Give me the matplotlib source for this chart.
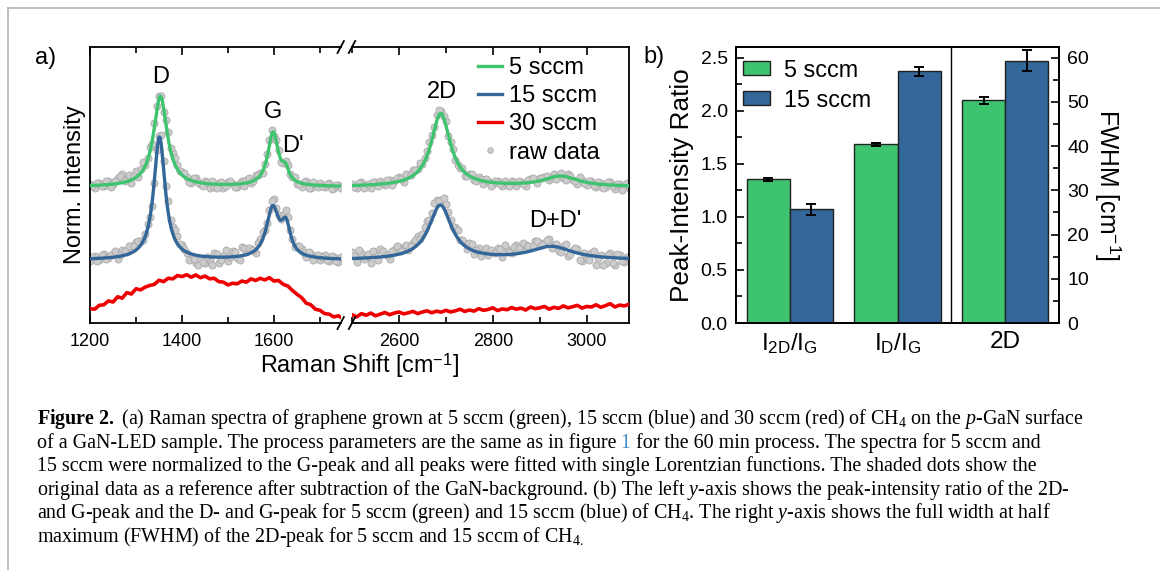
import matplotlib
matplotlib.use("Agg")
import matplotlib.pyplot as plt
from matplotlib.lines import Line2D
from matplotlib.ticker import MultipleLocator, FormatStrFormatter
import numpy as np

plt.rcParams['font.family'] = ['Liberation Sans', 'DejaVu Sans']
plt.rcParams['mathtext.fontset'] = 'custom'
plt.rcParams['mathtext.rm'] = 'Liberation Serif'
plt.rcParams['mathtext.it'] = 'Liberation Serif:italic'
plt.rcParams['mathtext.bf'] = 'Liberation Serif:bold'
plt.rcParams['mathtext.sf'] = 'Liberation Sans'

W, H = 1160, 570

# ---- panel a data (norm. intensity, arb. units, spectra stacked) ----
# Lorentzian fit parameters: (position cm-1, amplitude, FWHM cm-1)
green_base = 4.93
green_peaks = [(1353, 3.28, 36), (1598, 1.93, 28), (1625, 0.45, 18),
               (2689, 2.65, 50), (2945, 0.37, 90)]
blue_base = 2.28
blue_peaks = [(1351, 4.45, 30), (1597, 1.80, 34), (1626, 1.06, 24),
              (2688, 1.97, 59), (2925, 0.47, 110)]

# raw data = fit + residuals; two interleaved grids, 10 cm-1 apart each
green_res_low = [0.05, -0.10, 0.08, -0.05, 0.12, 0.00, 0.20, 0.30, 0.10, -0.12,
                 0.25, 0.15, 0.05, 0.20, 0.15, 0.10, -0.15, 0.25, 0.20, 0.15,
                 0.10, 0.05, -0.08, 0.12, -0.05, 0.08, -0.15, -0.10, 0.05, -0.12,
                 0.10, 0.00, -0.10, 0.08, 0.12, -0.05, 0.15, 0.10, 0.05, 0.20,
                 -0.10, 0.10, -0.05, 0.12, 0.05, -0.08, -0.12, 0.10, -0.10, 0.05,
                 0.08, -0.05, 0.10, -0.08, 0.05, 0.00]
green_mid_low = [0.00, 0.10, -0.05, 0.15, -0.10, 0.10, 0.25, 0.05, 0.20, 0.10,
                 -0.05, 0.30, 0.10, -0.10, 0.20, 0.05, 0.15, 0.10, 0.25, 0.05,
                 0.15, -0.10, 0.10, 0.00, -0.12, 0.05, 0.10, -0.15, 0.08, -0.05,
                 0.12, -0.10, 0.05, -0.08, 0.15, 0.00, 0.10, -0.05, 0.10, 0.15,
                 0.05, -0.10, 0.08, 0.00, 0.12, -0.05, 0.05, -0.12, 0.10, -0.05,
                 0.00, 0.08, -0.10, 0.05, -0.05]
blue_res_low = [-0.10, 0.10, -0.05, 0.15, 0.00, 0.12, -0.08, 0.20, 0.10, 0.25,
                0.30, 0.15, 0.10, 0.05, -0.10, 0.05, 0.30, 0.40, 0.25, 0.30,
                0.15, -0.05, -0.20, -0.30, -0.15, -0.25, -0.10, 0.15, -0.20, 0.05,
                -0.15, 0.20, -0.05, 0.30, 0.10, 0.15, -0.10, 0.20, 0.10, 0.15,
                0.25, 0.10, 0.15, 0.20, 0.05, 0.10, 0.15, -0.05, 0.10, 0.00,
                -0.10, 0.12, -0.08, 0.05, -0.12, 0.08]
blue_mid_low = [0.05, -0.10, 0.12, -0.05, 0.10, 0.20, 0.05, 0.15, 0.30, 0.20,
                0.25, 0.05, 0.20, -0.15, 0.15, 0.35, 0.30, 0.20, 0.35, 0.10,
                0.05, -0.25, -0.15, -0.35, -0.20, 0.00, -0.30, 0.10, -0.10, 0.25,
                0.00, 0.15, -0.15, 0.25, 0.20, 0.05, 0.15, 0.25, 0.05, 0.20,
                0.15, 0.05, 0.25, 0.10, -0.05, 0.20, 0.05, 0.15, -0.10, 0.10,
                0.05, -0.05, 0.10, -0.10, 0.05]
green_res_high = [0.05, -0.08, 0.10, 0.00, -0.10, 0.08, 0.12, -0.05, 0.10, 0.05,
                  0.15, -0.08, 0.12, 0.20, 0.10, 0.05, 0.15, 0.20, 0.25, 0.10,
                  0.15, 0.05, -0.10, -0.05, -0.12, 0.05, -0.08, 0.10, -0.10, 0.05,
                  -0.05, 0.08, -0.12, 0.00, 0.10, -0.08, 0.05, -0.10, 0.12, 0.05,
                  0.10, 0.08, -0.05, 0.12, 0.05, -0.08, 0.10, -0.05, -0.15, 0.05,
                  -0.10, 0.08, -0.12, 0.05, -0.08, 0.10, -0.15, 0.05, 0.00, -0.10]
green_mid_high = [-0.05, 0.08, -0.10, 0.05, 0.10, -0.05, 0.05, 0.12, -0.08, 0.15,
                  0.05, 0.18, 0.08, 0.15, 0.22, 0.12, 0.25, 0.15, 0.20, 0.05,
                  -0.05, 0.10, -0.10, 0.08, -0.05, 0.12, -0.08, 0.05, 0.10, -0.12,
                  0.05, -0.05, 0.10, -0.10, 0.05, 0.08, -0.05, 0.10, 0.15, -0.05,
                  0.08, 0.12, 0.00, -0.10, 0.10, -0.12, 0.05, -0.08, 0.12, -0.05,
                  0.05, -0.10, 0.08, -0.12, 0.10, -0.05, 0.05, -0.15, 0.08]
blue_res_high = [0.25, -0.15, 0.20, 0.05, -0.20, 0.15, 0.30, 0.10, -0.10, 0.20,
                 0.25, 0.15, 0.05, 0.20, 0.30, 0.20, 0.35, 0.25, 0.30, 0.20,
                 0.30, 0.15, 0.25, 0.05, 0.10, 0.20, -0.10, 0.15, 0.05, -0.05,
                 0.10, 0.25, -0.10, 0.20, 0.05, 0.30, 0.15, 0.25, 0.10, 0.30,
                 0.20, 0.15, 0.25, 0.05, -0.15, 0.10, -0.20, 0.05, 0.15, -0.25,
                 -0.10, 0.10, -0.30, 0.05, -0.20, 0.15, -0.25, 0.10, -0.15, 0.05]
blue_mid_high = [0.10, 0.30, -0.05, 0.15, 0.25, -0.10, 0.20, 0.05, 0.15, 0.30,
                 0.10, 0.25, 0.15, 0.25, 0.10, 0.30, 0.20, 0.40, 0.15, 0.35,
                 0.25, 0.10, 0.30, 0.15, -0.05, 0.20, 0.05, -0.10, 0.20, 0.15,
                 0.05, 0.20, 0.35, 0.10, 0.25, 0.20, 0.35, 0.20, 0.15, 0.30,
                 0.10, 0.25, -0.05, 0.10, -0.15, 0.20, -0.10, 0.15, -0.25, 0.05,
                 -0.15, 0.20, -0.05, -0.30, 0.10, -0.20, 0.15, -0.10, 0.05]

# 30 sccm spectrum (no fit), every 10 cm-1
red_low = [0.52, 0.50, 0.64, 0.66, 0.80, 0.76, 0.95, 0.90, 1.10, 1.05,
           1.24, 1.20, 1.30, 1.36, 1.40, 1.55, 1.50, 1.62, 1.60, 1.72,
           1.68, 1.75, 1.66, 1.74, 1.64, 1.70, 1.60, 1.62, 1.50, 1.48,
           1.38, 1.44, 1.42, 1.52, 1.48, 1.60, 1.54, 1.62, 1.56, 1.64,
           1.52, 1.54, 1.40, 1.34, 1.18, 1.04, 0.92, 0.72, 0.66, 0.50,
           0.46, 0.34, 0.32, 0.22, 0.26, 0.16]
red_high = [0.30, 0.22, 0.34, 0.28, 0.36, 0.26, 0.32, 0.38, 0.30, 0.36,
            0.40, 0.33, 0.37, 0.42, 0.34, 0.40, 0.44, 0.37, 0.43, 0.39,
            0.46, 0.40, 0.44, 0.50, 0.42, 0.47, 0.43, 0.52, 0.46, 0.49,
            0.55, 0.45, 0.51, 0.48, 0.56, 0.50, 0.54, 0.47, 0.58, 0.52,
            0.55, 0.60, 0.50, 0.57, 0.53, 0.62, 0.55, 0.59, 0.64, 0.54,
            0.60, 0.58, 0.66, 0.57, 0.63, 0.70, 0.58, 0.65, 0.62, 0.68]

# ---- panel b data ----
categories = [r"I$_{\mathsf{2D}}$/I$_{\mathsf{G}}$", r"I$_{\mathsf{D}}$/I$_{\mathsf{G}}$", "2D"]
ratio_5 = [1.355, 1.685]
ratio_5_err = [0.014, 0.014]
ratio_15 = [1.07, 2.37]
ratio_15_err = [0.05, 0.044]
fwhm_5 = [50.4]
fwhm_5_err = [0.8]
fwhm_15 = [59.3]
fwhm_15_err = [2.4]

GREEN = '#3ec46e'
BLUE = '#336699'
RED = '#ee0000'
LINK = '#3a8ec8'


def lorentz_sum(x, peaks, base):
    y = np.full_like(x, base, dtype=float)
    for x0, amp, fwhm in peaks:
        y += amp / (1 + ((x - x0) / (fwhm / 2)) ** 2)
    return y


fig = plt.figure(figsize=(W / 100, H / 100), dpi=100)

# light frame around the figure
fig.add_artist(Line2D([8 / W, 8 / W], [0, 1 - 8 / H], color='#b4b4b4', lw=1.2))
fig.add_artist(Line2D([8 / W, 1], [1 - 8 / H, 1 - 8 / H], color='#b4b4b4', lw=1.2))

# ---------------- panel a: broken x-axis ----------------
axL = fig.add_axes([90 / W, 247 / H, 250.7 / W, 276 / H])
axR = fig.add_axes([352 / W, 247 / H, 277 / W, 276 / H])
segments = [(axL, 1200, 1745, 1750, green_res_low, green_mid_low,
             blue_res_low, blue_mid_low, red_low),
            (axR, 2500, 3090, 3090, green_res_high, green_mid_high,
             blue_res_high, blue_mid_high, red_high)]
dot_kw = dict(s=26, color='#cccccc', edgecolor='#aaaaaa', lw=0.6, zorder=1)
for ax, x0, x1, x_end, g_res, g_mid, b_res, b_mid, r_vals in segments:
    xf = np.linspace(x0, x1, 800)
    for res, mid, peaks, base in [(g_res, g_mid, green_peaks, green_base),
                                  (b_res, b_mid, blue_peaks, blue_base)]:
        xa = np.linspace(x0, x_end, len(res))
        xm = np.linspace(x0 + 5, x_end - 5, len(mid))
        ax.scatter(xa, lorentz_sum(xa, peaks, base) + np.array(res), **dot_kw)
        ax.scatter(xm, lorentz_sum(xm, peaks, base) + np.array(mid), **dot_kw)
    ax.plot(xf, lorentz_sum(xf, green_peaks, green_base), color=GREEN, lw=2.4,
            zorder=3)
    ax.plot(xf, lorentz_sum(xf, blue_peaks, blue_base), color=BLUE, lw=2.4,
            zorder=3)
    ax.plot(np.linspace(x0, x_end, len(r_vals)), r_vals, color=RED, lw=2.6,
            zorder=3)
    ax.set_xlim(x0, x1)
    ax.set_ylim(0, 10)
    ax.set_yticks([])
    ax.xaxis.set_major_locator(MultipleLocator(200))
    ax.xaxis.set_minor_locator(MultipleLocator(100))
    ax.tick_params(axis='x', which='both', direction='in', top=True,
                   labelsize=13, pad=7, width=1.2)
    ax.tick_params(axis='x', which='major', length=6)
    ax.tick_params(axis='x', which='minor', length=4)
    for sp in ax.spines.values():
        sp.set_linewidth(1.3)

axL.spines['right'].set_visible(False)
axR.spines['left'].set_visible(False)

# break marks
for ax, xe in [(axL, 1.0), (axR, 0.0)]:
    bb = ax.get_position()
    dx = 3.2 / (bb.width * W)
    dy = 6.0 / (bb.height * H)
    for ye in (0.0, 1.0):
        ax.plot([xe - dx, xe + dx], [ye - dy, ye + dy], color='k', lw=1.3,
                transform=ax.transAxes, clip_on=False, zorder=5)

ann_kw = dict(ha='center', va='center', fontsize=17)
axL.text(1353, 8.91, "D", **ann_kw)
axL.text(1598, 7.64, "G", **ann_kw)
axL.text(1641, 6.41, "D'", **ann_kw)
axR.text(2691, 8.37, "2D", **ann_kw)
axR.text(2934, 3.70, "D+D'", **ann_kw)

axL.set_ylabel("Norm. Intensity", fontsize=17, labelpad=3)
fig.text(360 / W, 1 - 366 / H, r"Raman Shift [cm$^{\mathsf{-1}}$]", fontsize=16.8,
         ha='center', va='center')

legend_handles = [Line2D([], [], color=GREEN, lw=2.4),
                  Line2D([], [], color=BLUE, lw=2.4),
                  Line2D([], [], color=RED, lw=2.4),
                  Line2D([], [], ls='none', marker='o', ms=4, mfc='#cccccc',
                         mec='#aaaaaa', mew=0.6)]
axR.legend(legend_handles, ['5 sccm', '15 sccm', '30 sccm', 'raw data'],
           loc='upper left', bbox_to_anchor=(0.455, 0.963), frameon=False,
           fontsize=17, borderpad=0, borderaxespad=0, handlelength=1.0,
           handletextpad=0.3, labelspacing=0.26)

fig.text(46 / W, 1 - 58 / H, "a)", ha='center', va='center', fontsize=17)

# ---------------- panel b: bars ----------------
axb = fig.add_axes([736 / W, 247 / H, 323 / W, 276 / H])
axb2 = axb.twinx()
x = np.arange(len(categories))
bw = 0.4
ekw = dict(elinewidth=1.4, capthick=1.4)
bar_kw = dict(edgecolor='#222222', lw=1, capsize=3.3, error_kw=ekw)
axb.bar(x[:2] - bw / 2, ratio_5, bw, yerr=ratio_5_err, color=GREEN,
        label='5 sccm', **bar_kw)
axb.bar(x[:2] + bw / 2, ratio_15, bw, yerr=ratio_15_err, color=BLUE,
        label='15 sccm', **bar_kw)
axb2.bar(x[2:] - bw / 2, fwhm_5, bw, yerr=fwhm_5_err, color=GREEN, **bar_kw)
axb2.bar(x[2:] + bw / 2, fwhm_15, bw, yerr=fwhm_15_err, color=BLUE, **bar_kw)
axb.axvline(1.5, color='k', lw=1)

axb.set_xlim(-0.5, 2.5)
axb.set_ylim(0, 2.6)
axb2.set_ylim(0, 62.4)
axb.set_xticks(x, categories)
axb.tick_params(axis='x', length=0, labelsize=17.5, pad=6)
axb.yaxis.set_major_locator(MultipleLocator(0.5))
axb.yaxis.set_minor_locator(MultipleLocator(0.25))
axb.yaxis.set_major_formatter(FormatStrFormatter('%.1f'))
axb2.yaxis.set_major_locator(MultipleLocator(10))
axb2.yaxis.set_minor_locator(MultipleLocator(5))
for a in (axb, axb2):
    a.tick_params(axis='y', which='both', direction='in', labelsize=14, pad=6,
                  width=1.2)
    a.tick_params(axis='y', which='major', length=6)
    a.tick_params(axis='y', which='minor', length=4)
    for sp in a.spines.values():
        sp.set_linewidth(1.3)
axb.set_ylabel("Peak-Intensity Ratio", fontsize=18.8, labelpad=5)
axb2.set_ylabel(r"FWHM [cm$^{\mathsf{-1}}$]", fontsize=17.8, rotation=270,
                labelpad=24)
axb.legend(loc='upper left', bbox_to_anchor=(0.022, 0.958), frameon=False,
           fontsize=16.8, borderpad=0, borderaxespad=0, handlelength=1.15,
           handleheight=0.55, handletextpad=0.6, labelspacing=0.3)

fig.text(654 / W, 1 - 57 / H, "b)", ha='center', va='center', fontsize=17)

# ---------------- caption ----------------
cap_kw = dict(fontsize=14.4, family='Liberation Serif', va='baseline')
cx = 37 / W
base0, step = 424, 23.6
lines = [
    r"$\mathbf{Figure\ 2.}$ (a) Raman spectra of graphene grown at 5 sccm (green), "
    r"15 sccm (blue) and 30 sccm (red) of CH$_4$ on the $p$-GaN surface",
    None,
    "15 sccm were normalized to the G-peak and all peaks were fitted with single "
    "Lorentzian functions. The shaded dots show the",
    r"original data as a reference after subtraction of the GaN-background. (b) "
    r"The left $y$-axis shows the peak-intensity ratio of the 2D-",
    r"and G-peak and the D- and G-peak for 5 sccm (green) and 15 sccm (blue) of "
    r"CH$_4$. The right $y$-axis shows the full width at half",
    r"maximum (FWHM) of the 2D-peak for 5 sccm and 15 sccm of CH$_{4.}$",
]
for i, s in enumerate(lines):
    if s is not None:
        fig.text(cx, 1 - (base0 + i * step) / H, s, **cap_kw)

# second line carries the blue figure reference
y2 = 1 - (base0 + step) / H
renderer = fig.canvas.get_renderer()
pieces = [("of a GaN-LED sample. The process parameters are the same as in figure", 'k'),
          (" 1", LINK),
          (" for the 60 min process. The spectra for 5 sccm and", 'k')]
xpos = cx
for s, c in pieces:
    t = fig.text(xpos, y2, s, color=c, **cap_kw)
    xpos = t.get_window_extent(renderer).x1 / W

fig.savefig("out.png", dpi=100)
